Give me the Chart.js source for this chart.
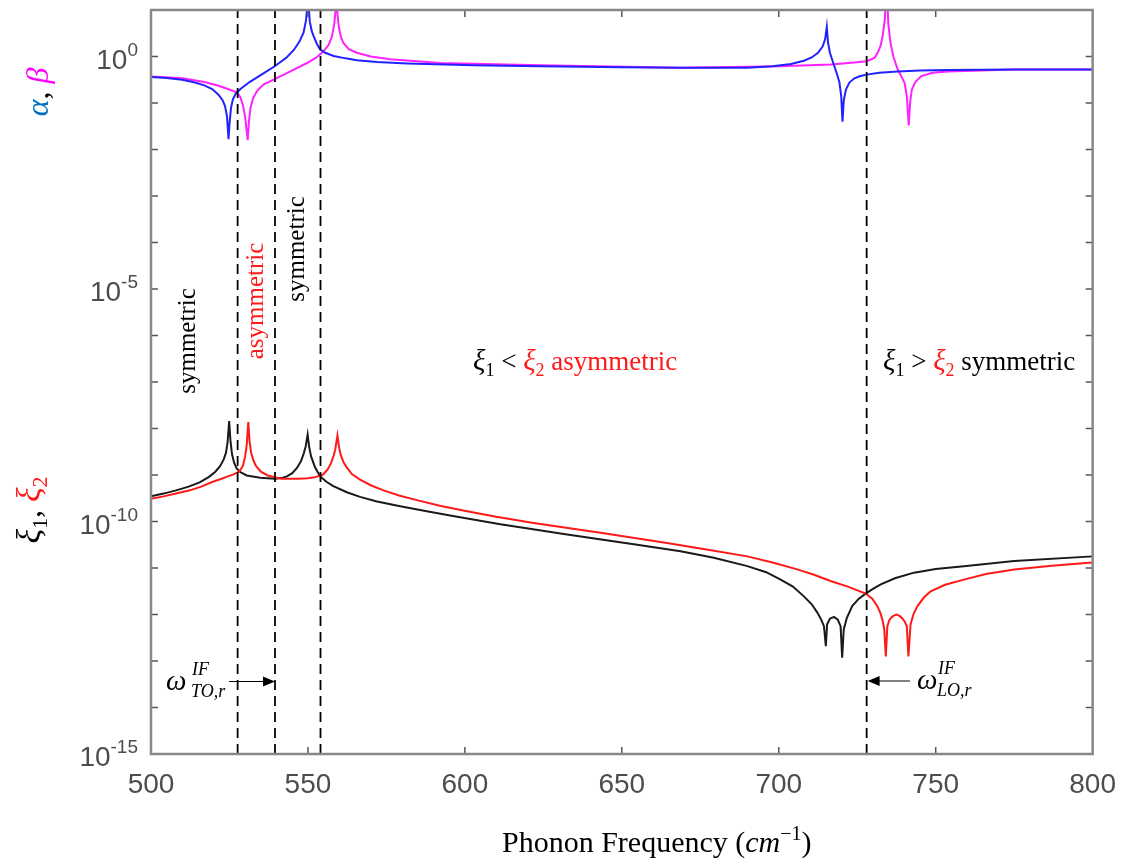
<!DOCTYPE html>
<html><head><meta charset="utf-8">
<script src="https://cdn.jsdelivr.net/npm/chart.js@4.4.0/dist/chart.umd.min.js"></script>
<style>html,body{margin:0;padding:0;background:#fff;}#wrap{width:1130px;height:865px;}</style>
</head><body><div id="wrap"><canvas id="c" width="1130" height="865"></canvas></div>
<script>
// ---- data (frequency in cm^-1, values as log10 exponents) ----
const alphaFreq = [500, 505, 510, 514, 517, 519.5, 521.5, 522.8, 523.6, 524.2,
  524.7, 525.0, 525.5, 526.1, 527.0, 528.5, 531.4, 535.7, 539.4, 543.2,
  545.5, 547.3, 548.6, 549.4, 549.8, 550.0, 550.2, 550.6, 551.2, 551.8,
  552.8, 553.9, 555.5, 558.2, 562.0, 565.6, 572.0, 581.6, 602.8, 624.1,
  650.0, 668.7, 690.0, 698.0, 703.9, 708.0, 710.5, 712.5, 714.0, 714.8,
  715.3, 715.7, 716.3, 717.3, 718.4, 719.3, 719.9, 720.3, 720.7, 721.4,
  722.5, 724.1, 726.0, 728.0, 732.0, 737.9, 745.0, 753.9, 775.0, 800.0];
const alphaExp = [-0.44, -0.46, -0.50, -0.56, -0.62, -0.70, -0.82, -0.94, -1.07, -1.28,
  -1.78, -1.45, -1.10, -0.92, -0.80, -0.70, -0.55, -0.37, -0.21, -0.02,
  0.14, 0.32, 0.51, 0.78, 1.10, 1.60, 1.10, 0.75, 0.55, 0.44,
  0.28, 0.15, 0.08, 0.01, -0.04, -0.08, -0.12, -0.15, -0.19, -0.21,
  -0.23, -0.24, -0.24, -0.21, -0.16, -0.09, -0.02, 0.08, 0.22, 0.38,
  0.64, 0.30, 0.08, -0.13, -0.35, -0.55, -0.85, -1.40, -0.95, -0.71,
  -0.56, -0.47, -0.42, -0.39, -0.35, -0.32, -0.30, -0.29, -0.28, -0.28];
const betaFreq = [500, 510, 517, 521, 524.5, 527.4, 528.5, 529.3, 530.0, 530.4,
  530.8, 531.2, 531.7, 532.5, 533.8, 535.9, 539.6, 544.4, 549.7, 552.5,
  554.8, 556.6, 557.6, 558.4, 558.8, 559.0, 559.3, 559.8, 560.5, 561.3,
  563.0, 565.6, 570.0, 576.2, 592.2, 624.1, 668.7, 700.6, 716.6, 724.0,
  728.0, 730.5, 731.5, 732.4, 733.1, 733.8, 734.4, 734.9, 735.6, 736.5,
  737.9, 739.0, 740.1, 740.8, 741.4, 741.9, 742.4, 743.5, 745.4, 749.0,
  753.9, 775.1, 800.0];
const betaExp = [-0.43, -0.47, -0.55, -0.62, -0.70, -0.77, -0.88, -1.05, -1.30, -1.55,
  -1.80, -1.40, -1.10, -0.90, -0.74, -0.60, -0.48, -0.32, -0.14, -0.03,
  0.10, 0.25, 0.42, 0.70, 1.00, 1.60, 1.00, 0.65, 0.42, 0.29,
  0.16, 0.08, 0.00, -0.06, -0.14, -0.19, -0.24, -0.21, -0.17, -0.13,
  -0.10, -0.03, 0.08, 0.22, 0.44, 0.80, 1.60, 0.70, 0.29, 0.00,
  -0.28, -0.42, -0.57, -0.85, -1.48, -0.95, -0.71, -0.55, -0.42, -0.35,
  -0.32, -0.28, -0.28];
const xi1Freq = [500, 504, 508, 512, 515.5, 518.5, 520.5, 522.0, 523.2, 523.9,
  524.4, 524.9, 525.3, 525.8, 526.5, 527.3, 528.5, 530.5, 534.8, 539.5,
  542.0, 543.3, 545.0, 546.5, 547.8, 548.6, 549.3, 549.9, 550.4, 551.0,
  552.3, 553.9, 556.0, 558.1, 562.4, 566.6, 572.0, 579.4, 587.0, 595.3,
  611.3, 632.6, 653.8, 668.7, 679.3, 690.0, 696.0, 700.6, 704.5, 708.0,
  710.5, 712.3, 713.6, 714.4, 715.0, 715.4, 716.3, 717.6, 718.8, 719.7,
  720.2, 720.7, 721.7, 723.4, 725.5, 727.7, 730.0, 732.5, 737.0, 743.1,
  750.0, 759.0, 775.0, 800.0];
const xi1Exp = [-9.46, -9.40, -9.33, -9.25, -9.16, -9.04, -8.93, -8.81, -8.66, -8.52,
  -8.30, -7.84, -8.25, -8.55, -8.74, -8.86, -8.94, -9.01, -9.06, -9.08,
  -9.06, -9.03, -8.96, -8.85, -8.70, -8.55, -8.38, -8.13, -8.40, -8.60,
  -8.84, -9.03, -9.15, -9.24, -9.37, -9.47, -9.57, -9.67, -9.77, -9.87,
  -10.06, -10.28, -10.49, -10.64, -10.78, -10.96, -11.09, -11.25, -11.40, -11.61,
  -11.78, -11.96, -12.12, -12.25, -12.68, -12.21, -12.09, -12.05, -12.11, -12.25,
  -12.93, -12.32, -12.07, -11.82, -11.66, -11.55, -11.45, -11.35, -11.22, -11.10,
  -11.02, -10.96, -10.85, -10.75];
const xi2Freq = [500, 504, 508, 512.4, 516, 519.5, 522.5, 524.5, 526.5, 528.2,
  529.3, 530.0, 530.5, 531.0, 531.4, 531.9, 532.7, 533.5, 535.0, 537.2,
  541.5, 546.8, 550.0, 552.1, 554.8, 556.3, 557.4, 558.2, 558.7, 559.4,
  559.9, 560.5, 561.3, 562.2, 564.0, 566.6, 570.0, 574.1, 579.0, 584.7,
  592.0, 600.7, 610.0, 621.9, 643.2, 664.4, 677.0, 690.0, 698.0, 705.9,
  711.0, 716.5, 722.0, 727.7, 729.8, 731.4, 732.4, 733.0, 733.6, 734.1,
  734.6, 735.2, 735.8, 736.5, 737.5, 738.5, 739.3, 740.1, 740.8, 741.3,
  742.0, 743.0, 744.2, 746.3, 748.4, 753.0, 759.0, 766.0, 775.0, 787.0,
  800.0];
const xi2Exp = [-9.51, -9.46, -9.40, -9.33, -9.25, -9.15, -9.08, -9.03, -8.98, -8.92,
  -8.80, -8.60, -8.35, -7.86, -8.28, -8.52, -8.70, -8.81, -8.93, -9.01,
  -9.08, -9.08, -9.07, -9.05, -8.99, -8.88, -8.74, -8.58, -8.45, -8.15,
  -8.40, -8.58, -8.72, -8.82, -8.98, -9.10, -9.22, -9.33, -9.44, -9.54,
  -9.66, -9.78, -9.90, -10.03, -10.24, -10.46, -10.60, -10.75, -10.88, -11.03,
  -11.14, -11.28, -11.40, -11.55, -11.66, -11.82, -11.97, -12.11, -12.30, -12.90,
  -12.25, -12.13, -12.07, -12.03, -12.00, -12.03, -12.08, -12.15, -12.25, -12.90,
  -12.21, -11.98, -11.82, -11.63, -11.50, -11.36, -11.25, -11.13, -11.03, -10.95,
  -10.88];
const ifLines = [527.6, 539.5, 554.0, 728.0];      // dashed interface-mode lines
const xTicks = [500, 550, 600, 650, 700, 750, 800];
const yDecades = [-15,-14,-13,-12,-11,-10,-9,-8,-7,-6,-5,-4,-3,-2,-1,0,1];
const yLabelExps = [0, -5, -10, -15];

// ---- styling ----
const SERIF = '"Liberation Serif", "Times New Roman", serif';
const SANS = '"Liberation Sans", Arial, sans-serif';
const RED = '#ff1a1a', BLUE_T = '#0070c0', MAG_T = '#ff00ff';
const TICK_COL = '#4d4d4d';

const toPts = (f, e) => f.map((v, i) => ({x: v, y: Math.pow(10, e[i])}));
const vline = v => [{x: v, y: 1e-15}, {x: v, y: 10}];

const lineDs = (data, color) => ({data, borderColor: color, borderWidth: 2, pointRadius: 0, tension: 0, fill: false, clip: 0});
const datasets = [
  ...ifLines.map(v => ({data: vline(v), borderColor: '#000', borderWidth: 1.8, borderDash: [10, 6], pointRadius: 0, fill: false, clip: 0})),
  lineDs(toPts(alphaFreq, alphaExp), '#2222ff'),
  lineDs(toPts(betaFreq, betaExp), '#ff22ff'),
  lineDs(toPts(xi2Freq, xi2Exp), RED),
  lineDs(toPts(xi1Freq, xi1Exp), '#1a1a1a'),
];

function richWidth(ctx, parts) {
  let w = 0;
  for (const p of parts) { ctx.font = p.font; w += ctx.measureText(p.t).width + (p.kern || 0); }
  return w;
}
function drawRich(ctx, parts, x, y) {
  for (const p of parts) {
    ctx.font = p.font; ctx.fillStyle = p.color || '#000';
    ctx.fillText(p.t, x, y + (p.dy || 0));
    x += ctx.measureText(p.t).width + (p.kern || 0);
  }
}
function drawRotated(ctx, parts, bx, cy) {
  ctx.save();
  ctx.translate(bx, cy);
  ctx.rotate(-Math.PI / 2);
  const w = richWidth(ctx, parts);
  drawRich(ctx, parts, -w / 2, 0);
  ctx.restore();
}
function arrow(ctx, x0, x1, y) {
  const dir = Math.sign(x1 - x0);
  ctx.beginPath(); ctx.moveTo(x0, y); ctx.lineTo(x1 - dir * 10, y); ctx.stroke();
  ctx.beginPath(); ctx.moveTo(x1, y); ctx.lineTo(x1 - dir * 12, y - 5); ctx.lineTo(x1 - dir * 12, y + 5); ctx.closePath(); ctx.fill();
}

const decor = {
  id: 'decor',
  afterDraw(chart) {
    const {ctx, chartArea: a, scales: {x, y}} = chart;
    ctx.save();
    // inward ticks
    ctx.strokeStyle = '#555'; ctx.lineWidth = 1.5;
    const seg = (x0, y0, x1, y1) => { ctx.beginPath(); ctx.moveTo(x0, y0); ctx.lineTo(x1, y1); ctx.stroke(); };
    yDecades.forEach(e => {
      const py = y.getPixelForValue(Math.pow(10, e));
      if (py <= a.top + 2 || py >= a.bottom - 2) return;
      seg(a.left, py, a.left + 7, py); seg(a.right, py, a.right - 7, py);
    });
    xTicks.forEach(v => {
      const px = x.getPixelForValue(v);
      if (px <= a.left + 2 || px >= a.right - 2) return;
      seg(px, a.bottom, px, a.bottom - 7); seg(px, a.top, px, a.top + 7);
    });
    // frame
    ctx.strokeStyle = '#888'; ctx.lineWidth = 2.5;
    ctx.strokeRect(a.left, a.top, a.right - a.left, a.bottom - a.top);

    // y tick labels with superscripts
    ctx.textAlign = 'left'; ctx.textBaseline = 'alphabetic';
    yLabelExps.forEach(e => {
      const py = y.getPixelForValue(Math.pow(10, e));
      const parts = [{t: '10', font: '28px ' + SANS, color: TICK_COL}, {t: String(e), font: '19px ' + SANS, color: TICK_COL, dy: -13}];
      const w = richWidth(ctx, parts);
      drawRich(ctx, parts, a.left - 13 - w, py + 12);
    });

    // axis titles
    const it = s => 'italic ' + s + 'px ' + SERIF;
    const rm = s => s + 'px ' + SERIF;
    drawRotated(ctx, [{t: 'α', font: it(32), color: BLUE_T}, {t: ', ', font: rm(32), color: '#000'}, {t: 'β', font: it(32), color: MAG_T}], 48, 92);
    drawRotated(ctx, [{t: 'ξ', font: it(34), color: '#000'}, {t: '1', font: rm(22), color: '#000', dy: 7}, {t: ', ', font: rm(32), color: '#000'},
                      {t: 'ξ', font: it(34), color: RED}, {t: '2', font: rm(22), color: RED, dy: 7}], 40, 510);
    const title = [{t: 'Phonon Frequency (', font: rm(30)}, {t: 'cm', font: it(30)}, {t: '−1', font: rm(20), dy: -12}, {t: ')', font: rm(30)}];
    drawRich(ctx, title, 502, 852);

    // region annotations
    drawRotated(ctx, [{t: 'symmetric', font: rm(25), color: '#000'}], 195, 341);
    drawRotated(ctx, [{t: 'asymmetric', font: rm(25), color: RED}], 263, 301);
    drawRotated(ctx, [{t: 'symmetric', font: rm(25), color: '#000'}], 304, 249);
    const xiPair = (op, tail, tailCol) => [
      {t: 'ξ', font: it(29), color: '#000'}, {t: '1', font: rm(18), color: '#000', dy: 6},
      {t: ' ' + op + ' ', font: rm(27), color: '#000'},
      {t: 'ξ', font: it(29), color: RED}, {t: '2', font: rm(18), color: RED, dy: 6},
      {t: tail, font: rm(27), color: tailCol}];
    drawRich(ctx, xiPair('<', ' asymmetric', RED), 473, 370);
    drawRich(ctx, xiPair('>', ' symmetric', '#000'), 883, 370);

    // omega annotations and arrows
    drawRich(ctx, [{t: 'ω', font: it(29)}], 166, 690);
    drawRich(ctx, [{t: 'IF', font: it(18)}], 192, 675);
    drawRich(ctx, [{t: 'TO,r', font: it(18)}], 191, 697);
    drawRich(ctx, [{t: 'ω', font: it(29)}], 917, 689);
    drawRich(ctx, [{t: 'IF', font: it(18)}], 938, 674);
    drawRich(ctx, [{t: 'LO,r', font: it(18)}], 937, 696);
    ctx.strokeStyle = '#000'; ctx.fillStyle = '#000'; ctx.lineWidth = 1.2;
    arrow(ctx, 229, x.getPixelForValue(ifLines[1]), 681.5);
    arrow(ctx, 910, x.getPixelForValue(ifLines[3]) + 1, 681);
    ctx.restore();
  }
};

new Chart(document.getElementById('c'), {
  type: 'line',
  data: {datasets},
  options: {
    responsive: false, animation: false, devicePixelRatio: 1,
    layout: {padding: {top: 10, right: 37, left: 0, bottom: 0}},
    plugins: {legend: {display: false}, tooltip: {enabled: false}},
    scales: {
      x: {
        type: 'linear', min: 500, max: 800,
        afterBuildTicks: s => { s.ticks = xTicks.map(v => ({value: v})); },
        grid: {display: false, drawTicks: false}, border: {display: false},
        ticks: {font: {family: SANS, size: 28}, color: TICK_COL, padding: 14, maxRotation: 0, autoSkip: false},
        afterFit: s => { s.height = 111; }
      },
      y: {
        type: 'logarithmic', min: 1e-15, max: 10,
        afterBuildTicks: s => { s.ticks = yDecades.map(e => ({value: Math.pow(10, e)})); },
        grid: {display: false, drawTicks: false}, border: {display: false},
        ticks: {display: false},
        afterFit: s => { s.width = 151; }
      }
    }
  },
  plugins: [decor]
});
</script>
</body></html>
